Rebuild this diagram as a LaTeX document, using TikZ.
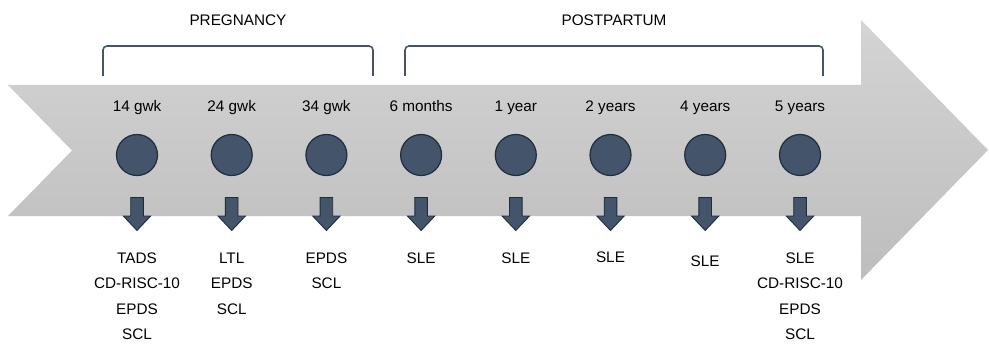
\documentclass[tikz,border=0pt]{standalone}
\usepackage{fontspec}
\setmainfont{Liberation Sans}
\definecolor{slate}{HTML}{44546A}
\definecolor{slateedge}{HTML}{1F2D3D}
\definecolor{bandtop}{HTML}{D4D4D4}
\definecolor{bandbot}{HTML}{BDBDBD}
\begin{document}
\begin{tikzpicture}[x=1pt,y=-1pt,
  lbl/.style={font=\fontsize{15.3}{18}\selectfont, inner sep=0pt, anchor=base},
  dot/.style={circle, fill=slate, draw=slateedge, line width=1.2pt,
    minimum size=41pt, inner sep=0pt},
  bracketline/.style={draw=slate, line width=1.6pt, rounded corners=4pt},
  pics/downarrow/.style={code={
    \filldraw[fill=slate, draw=slateedge, line width=0.9pt]
      (-6.3,0) -- (6.3,0) -- (6.3,18.5) -- (13.7,18.5) -- (0,33)
      -- (-13.7,18.5) -- (-6.3,18.5) -- cycle;}}
]
\useasboundingbox (0,0) rectangle (989,345);

% timeline band with notched tail and arrow head
\shade[top color=bandtop, bottom color=bandbot]
  (8,85) -- (861,85) -- (861,20) -- (988,150) -- (861,280)
  -- (861,216) -- (8,216) -- (72,150.5) -- cycle;

% period brackets and their titles
\draw[bracketline] (103,76) -- (103,46) -- (373,46) -- (373,76);
\draw[bracketline] (405,76) -- (405,46) -- (823,46) -- (823,76);
\node[lbl] (preg) at (238,26) {PREGNANCY};
\node[lbl] (post) at (614,26) {POSTPARTUM};

% time points
\foreach \cx/\t [count=\i] in {137/14 gwk, 231.7/24 gwk, 326.4/34 gwk,
    421.1/6 months, 515.8/1 year, 610.5/2 years, 705.2/4 years, 800/5 years}{
  \node[lbl] (t\i) at (\cx,111.5) {\t};
  \node[dot] (c\i) at (\cx,155) {};
  \pic at (\cx,197.5) {downarrow};
}

% measures collected at each time point
\node[lbl] (m1a) at (137,263) {TADS};
\node[lbl] (m1b) at (137,288.6) {CD-RISC-10};
\node[lbl] (m1c) at (137,314.2) {EPDS};
\node[lbl] (m1d) at (137,339.8) {SCL};

\node[lbl] (m2a) at (231.7,263) {LTL};
\node[lbl] (m2b) at (231.7,288.6) {EPDS};
\node[lbl] (m2c) at (231.7,314.2) {SCL};

\node[lbl] (m3a) at (326.4,263) {EPDS};
\node[lbl] (m3b) at (326.4,288.6) {SCL};

\node[lbl] (m4a) at (421.1,263) {SLE};
\node[lbl] (m5a) at (515.8,263) {SLE};
\node[lbl] (m6a) at (610.5,262) {SLE};
\node[lbl] (m7a) at (705.2,266) {SLE};

\node[lbl] (m8a) at (800,263) {SLE};
\node[lbl] (m8b) at (800,288.6) {CD-RISC-10};
\node[lbl] (m8c) at (800,314.2) {EPDS};
\node[lbl] (m8d) at (800,339.8) {SCL};
\end{tikzpicture}
\end{document}
